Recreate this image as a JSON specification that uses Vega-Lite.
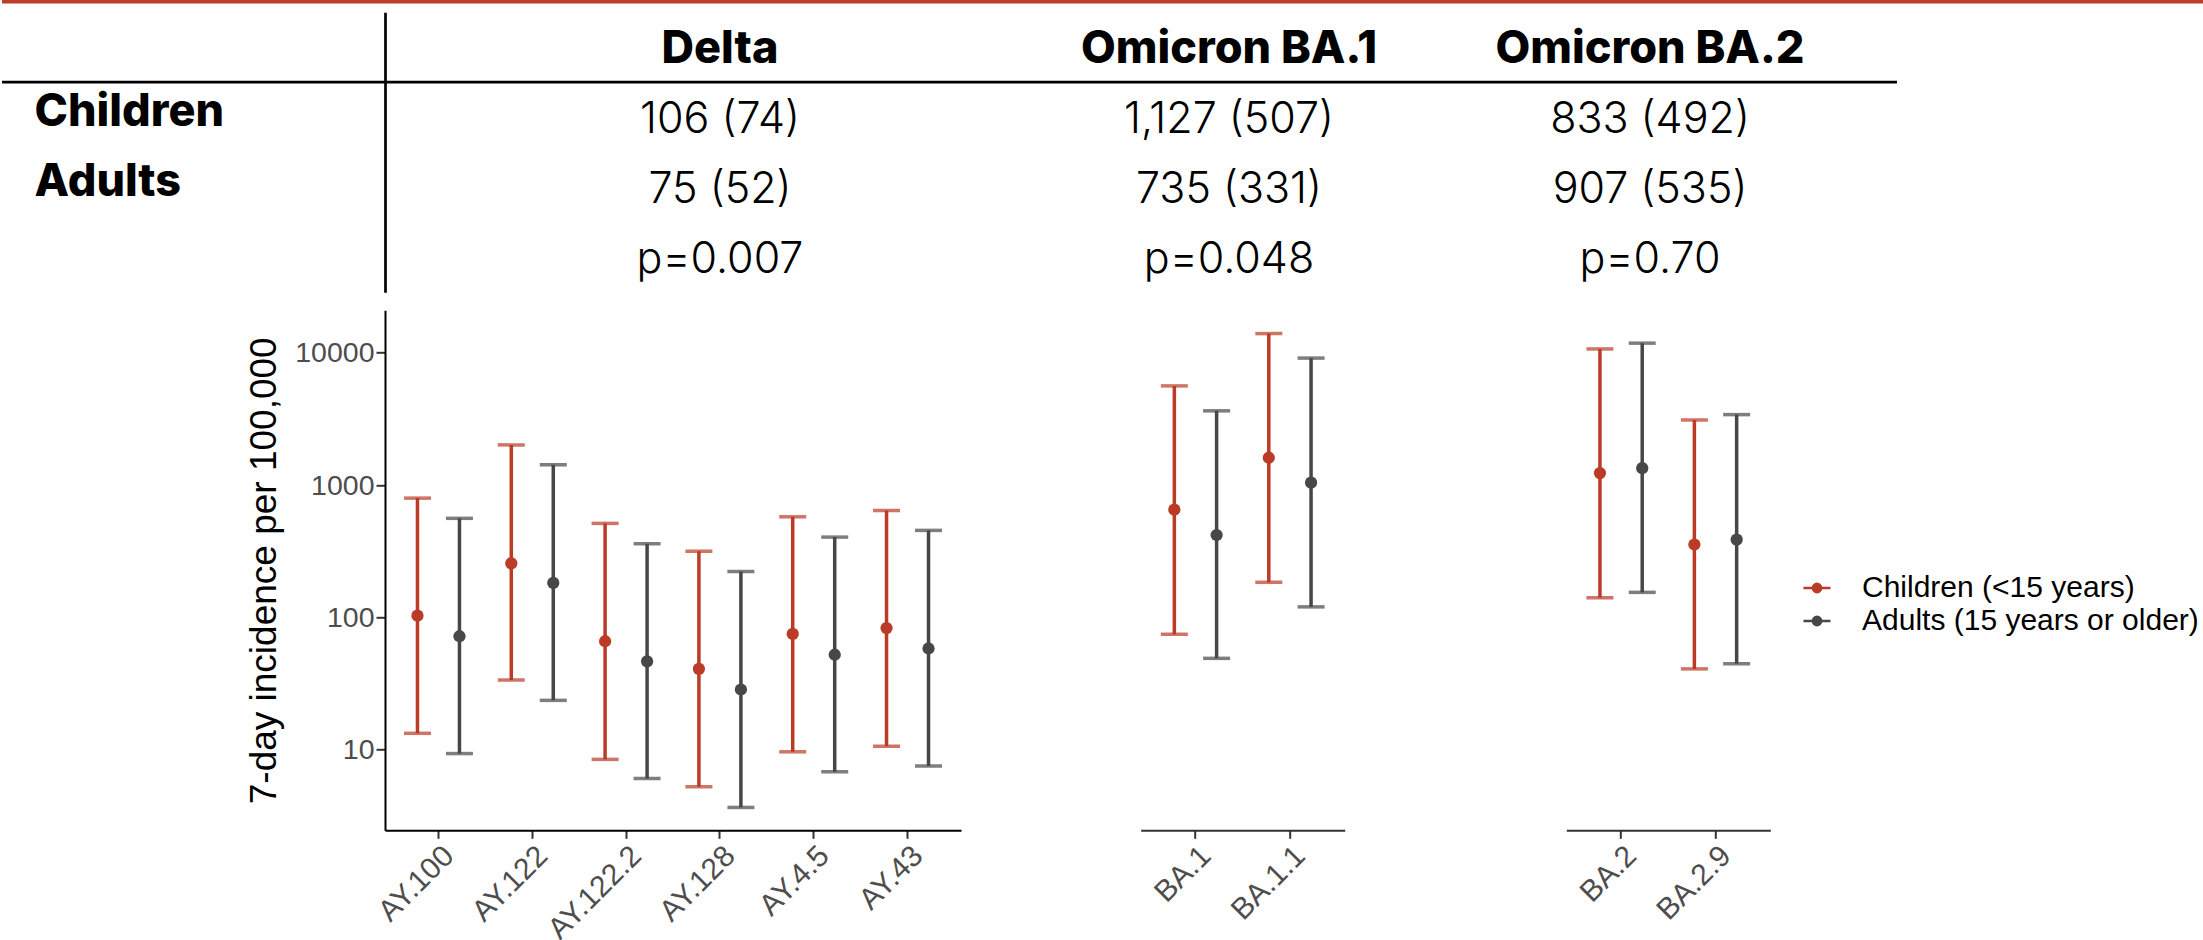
{
  "$schema": "https://vega.github.io/schema/vega-lite/v6.json",
  "padding": 0,
  "background": "white",
  "config": {
    "view": {"stroke": null},
    "axis": {"grid": false},
    "legend": {
      "labelFont": "Liberation Sans",
      "labelFontSize": 30,
      "labelColor": "black",
      "symbolType": "M-1,0H1M-0.3,0A0.3,0.3,0,1,1,0.3,0A0.3,0.3,0,1,1,-0.3,0Z",
      "symbolSize": 729,
      "symbolStrokeWidth": 2.7,
      "labelOffset": 30,
      "rowPadding": 3,
      "padding": 0,
      "labelLimit": 0
    }
  },
  "datasets": {
    "one": [{"k": 1}],
    "table": [
      {"col": "Delta", "row": "header", "label": "Delta"},
      {"col": "Delta", "row": "Children", "label": "106 (74)"},
      {"col": "Delta", "row": "Adults", "label": "75 (52)"},
      {"col": "Delta", "row": "p", "label": "p=0.007"},
      {"col": "BA.1", "row": "header", "label": "Omicron BA.1"},
      {"col": "BA.1", "row": "Children", "label": "1,127 (507)"},
      {"col": "BA.1", "row": "Adults", "label": "735 (331)"},
      {"col": "BA.1", "row": "p", "label": "p=0.048"},
      {"col": "BA.2", "row": "header", "label": "Omicron BA.2"},
      {"col": "BA.2", "row": "Children", "label": "833 (492)"},
      {"col": "BA.2", "row": "Adults", "label": "907 (535)"},
      {"col": "BA.2", "row": "p", "label": "p=0.70"}
    ],
    "est": [
      {"lineage": "Delta", "variant": "AY.100", "group": "Children (<15 years)", "est": 103, "lo": 13.3, "hi": 796},
      {"lineage": "Delta", "variant": "AY.100", "group": "Adults (15 years or older)", "est": 72, "lo": 9.35, "hi": 560},
      {"lineage": "Delta", "variant": "AY.122", "group": "Children (<15 years)", "est": 256, "lo": 33.6, "hi": 2010},
      {"lineage": "Delta", "variant": "AY.122", "group": "Adults (15 years or older)", "est": 182, "lo": 23.6, "hi": 1422},
      {"lineage": "Delta", "variant": "AY.122.2", "group": "Children (<15 years)", "est": 66, "lo": 8.45, "hi": 513},
      {"lineage": "Delta", "variant": "AY.122.2", "group": "Adults (15 years or older)", "est": 46.5, "lo": 6.06, "hi": 360},
      {"lineage": "Delta", "variant": "AY.128", "group": "Children (<15 years)", "est": 40.8, "lo": 5.25, "hi": 316},
      {"lineage": "Delta", "variant": "AY.128", "group": "Adults (15 years or older)", "est": 28.5, "lo": 3.66, "hi": 222},
      {"lineage": "Delta", "variant": "AY.4.5", "group": "Children (<15 years)", "est": 75, "lo": 9.64, "hi": 575},
      {"lineage": "Delta", "variant": "AY.4.5", "group": "Adults (15 years or older)", "est": 52.2, "lo": 6.81, "hi": 404},
      {"lineage": "Delta", "variant": "AY.43", "group": "Children (<15 years)", "est": 83, "lo": 10.6, "hi": 641},
      {"lineage": "Delta", "variant": "AY.43", "group": "Adults (15 years or older)", "est": 58.2, "lo": 7.53, "hi": 454},
      {"lineage": "BA.1", "variant": "BA.1", "group": "Children (<15 years)", "est": 651, "lo": 74.5, "hi": 5610},
      {"lineage": "BA.1", "variant": "BA.1", "group": "Adults (15 years or older)", "est": 419, "lo": 49, "hi": 3635},
      {"lineage": "BA.1", "variant": "BA.1.1", "group": "Children (<15 years)", "est": 1607, "lo": 184, "hi": 13930},
      {"lineage": "BA.1", "variant": "BA.1.1", "group": "Adults (15 years or older)", "est": 1042, "lo": 120, "hi": 9100},
      {"lineage": "BA.2", "variant": "BA.2", "group": "Children (<15 years)", "est": 1230, "lo": 140.6, "hi": 10670},
      {"lineage": "BA.2", "variant": "BA.2", "group": "Adults (15 years or older)", "est": 1340, "lo": 154.5, "hi": 11800},
      {"lineage": "BA.2", "variant": "BA.2.9", "group": "Children (<15 years)", "est": 355, "lo": 40.8, "hi": 3100},
      {"lineage": "BA.2", "variant": "BA.2.9", "group": "Adults (15 years or older)", "est": 387, "lo": 44.6, "hi": 3404}
    ]
  },
  "resolve": {
    "scale": {"x": "independent", "y": "independent", "xOffset": "independent", "color": "shared"},
    "axis": {"x": "independent", "y": "independent"}
  },
  "bounds": "full",
  "spacing": 17.3,
  "vconcat": [
    {
      "bounds": "full",
      "spacing": 8.2,
      "resolve": {"scale": {"x": "independent", "y": "independent"}, "axis": {"x": "independent", "y": "independent"}},
      "vconcat": [
        {
          "width": 2203,
          "height": 3.5,
          "data": {"name": "one"},
          "mark": {"type": "rule", "color": "#BE3E2A", "strokeWidth": 3.5},
          "encoding": {"y": {"datum": 0.5, "type": "quantitative", "scale": {"domain": [0, 1]}, "axis": null}}
        },
        {
          "bounds": "flush",
          "spacing": 0,
          "resolve": {"scale": {"x": "independent", "y": "independent"}, "axis": {"x": "independent", "y": "independent"}},
          "hconcat": [
            {
              "width": 383,
              "height": 280,
              "data": {"name": "one"},
              "mark": {"type": "rule", "color": "black", "strokeWidth": 2.7},
              "encoding": {
                "y": {
                  "datum": "Children", "type": "nominal", "bandPosition": 0,
                  "scale": {"type": "band", "domain": ["header", "Children", "Adults", "p"], "paddingInner": 0, "paddingOuter": 0},
                  "axis": {
                    "orient": "left", "domain": false, "ticks": false, "tickSize": 0,
                    "labelAlign": "left", "labelPadding": -32, "labelBaseline": "alphabetic", "labelOffset": 9,
                    "bandPosition": 0.72, "labelFont": "Inter", "labelFontSize": 45,
                    "labelFontWeight": 800, "labelColor": "black", "labelLimit": 0,
                    "labelOverlap": false, "title": null,
                    "labelExpr": "datum.value == 'Children' || datum.value == 'Adults' ? datum.value : ''"
                  }
                }
              }
            },
            {
              "width": 670,
              "height": 280,
              "data": {"name": "table"},
              "transform": [{"filter": "datum.col == 'Delta'"}],
              "layer": [
                {
                  "data": {"name": "one"},
                  "mark": {"type": "rule", "color": "black", "strokeWidth": 2.7},
                  "encoding": {"y": {"datum": "Children", "type": "nominal", "bandPosition": 0,
                    "scale": {"type": "band", "domain": ["header", "Children", "Adults", "p"], "paddingInner": 0, "paddingOuter": 0},
                    "axis": {"domain": true, "domainColor": "black", "domainWidth": 2.7, "ticks": false, "labels": false, "title": null}}}
                },
                {
                  "transform": [{"filter": "datum.row == 'header'"}],
                  "mark": {"type": "text", "font": "Inter", "fontSize": 45, "fontWeight": 800, "baseline": "alphabetic", "color": "black"},
                  "encoding": {
                    "y": {"field": "row", "type": "nominal", "bandPosition": 0.72,
                      "scale": {"type": "band", "domain": ["header", "Children", "Adults", "p"], "paddingInner": 0, "paddingOuter": 0},
                      "axis": {"domain": true, "domainColor": "black", "domainWidth": 2.7, "ticks": false, "labels": false, "title": null}},
                    "text": {"field": "label"}
                  }
                },
                {
                  "transform": [{"filter": "datum.row != 'header'"}],
                  "mark": {"type": "text", "font": "Inter", "fontSize": 43, "fontWeight": 300, "baseline": "alphabetic", "color": "black"},
                  "encoding": {
                    "y": {"field": "row", "type": "nominal", "bandPosition": 0.72,
                      "scale": {"type": "band", "domain": ["header", "Children", "Adults", "p"], "paddingInner": 0, "paddingOuter": 0},
                      "axis": {"domain": true, "domainColor": "black", "domainWidth": 2.7, "ticks": false, "labels": false, "title": null}},
                    "text": {"field": "label"}
                  }
                }
              ]
            },
            {
              "width": 348,
              "height": 280,
              "data": {"name": "table"},
              "transform": [{"filter": "datum.col == 'BA.1'"}],
              "layer": [
                {
                  "data": {"name": "one"},
                  "mark": {"type": "rule", "color": "black", "strokeWidth": 2.7},
                  "encoding": {"y": {"datum": "Children", "type": "nominal", "bandPosition": 0,
                    "scale": {"type": "band", "domain": ["header", "Children", "Adults", "p"], "paddingInner": 0, "paddingOuter": 0}, "axis": null}}
                },
                {
                  "transform": [{"filter": "datum.row == 'header'"}],
                  "mark": {"type": "text", "font": "Inter", "fontSize": 45, "fontWeight": 800, "baseline": "alphabetic", "color": "black"},
                  "encoding": {
                    "y": {"field": "row", "type": "nominal", "bandPosition": 0.72,
                      "scale": {"type": "band", "domain": ["header", "Children", "Adults", "p"], "paddingInner": 0, "paddingOuter": 0}, "axis": null},
                    "text": {"field": "label"}
                  }
                },
                {
                  "transform": [{"filter": "datum.row != 'header'"}],
                  "mark": {"type": "text", "font": "Inter", "fontSize": 43, "fontWeight": 300, "baseline": "alphabetic", "color": "black"},
                  "encoding": {
                    "y": {"field": "row", "type": "nominal", "bandPosition": 0.72,
                      "scale": {"type": "band", "domain": ["header", "Children", "Adults", "p"], "paddingInner": 0, "paddingOuter": 0}, "axis": null},
                    "text": {"field": "label"}
                  }
                }
              ]
            },
            {
              "width": 494,
              "height": 280,
              "data": {"name": "table"},
              "transform": [{"filter": "datum.col == 'BA.2'"}],
              "layer": [
                {
                  "data": {"name": "one"},
                  "mark": {"type": "rule", "color": "black", "strokeWidth": 2.7},
                  "encoding": {"y": {"datum": "Children", "type": "nominal", "bandPosition": 0,
                    "scale": {"type": "band", "domain": ["header", "Children", "Adults", "p"], "paddingInner": 0, "paddingOuter": 0}, "axis": null}}
                },
                {
                  "transform": [{"filter": "datum.row == 'header'"}],
                  "mark": {"type": "text", "font": "Inter", "fontSize": 45, "fontWeight": 800, "baseline": "alphabetic", "color": "black"},
                  "encoding": {
                    "y": {"field": "row", "type": "nominal", "bandPosition": 0.72,
                      "scale": {"type": "band", "domain": ["header", "Children", "Adults", "p"], "paddingInner": 0, "paddingOuter": 0}, "axis": null},
                    "text": {"field": "label"}
                  }
                },
                {
                  "transform": [{"filter": "datum.row != 'header'"}],
                  "mark": {"type": "text", "font": "Inter", "fontSize": 43, "fontWeight": 300, "baseline": "alphabetic", "color": "black"},
                  "encoding": {
                    "y": {"field": "row", "type": "nominal", "bandPosition": 0.72,
                      "scale": {"type": "band", "domain": ["header", "Children", "Adults", "p"], "paddingInner": 0, "paddingOuter": 0}, "axis": null},
                    "text": {"field": "label"}
                  }
                }
              ]
            }
          ]
        }
      ]
    },
    {
      "bounds": "full",
      "spacing": 179.7,
      "resolve": {
        "scale": {"x": "independent", "y": "independent", "xOffset": "independent", "color": "shared"},
        "axis": {"x": "independent", "y": "independent"}
      },
      "hconcat": [
        {
          "bounds": "flush",
          "spacing": 180,
          "resolve": {
            "scale": {"x": "independent", "y": "independent", "xOffset": "independent", "color": "shared"},
            "axis": {"x": "independent", "y": "independent"}
          },
          "hconcat": [
            {"width": 202.7, "height": 520, "data": {"name": "one"}, "mark": {"type": "text", "text": ""}, "encoding": {}},
            {
              "width": 576,
              "height": 520,
              "data": {"name": "est"},
              "transform": [{"filter": "datum.lineage == 'Delta'"}],
              "encoding": {
                "x": {"field": "variant", "type": "nominal", "sort": ["AY.100", "AY.122", "AY.122.2", "AY.128", "AY.4.5", "AY.43"],
                  "scale": {"type": "band", "paddingInner": 0, "paddingOuter": 0.07},
                  "axis": {"title": null, "labelAngle": -45, "labelAlign": "right", "labelBaseline": "top", "labelFont": "Liberation Sans", "labelFontSize": 30, "labelColor": "#4D4D4D", "labelPadding": 2, "tickSize": 8, "tickWidth": 2, "tickColor": "#333333", "domainColor": "black", "domainWidth": 2, "labelLimit": 0}},
                "xOffset": {"field": "group", "type": "nominal", "scale": {"domain": ["Children (<15 years)", "Adults (15 years or older)"], "paddingInner": 0, "paddingOuter": 0.117}},
                "color": {"field": "group", "type": "nominal", "scale": {"domain": ["Children (<15 years)", "Adults (15 years or older)"], "range": ["#BB3B26", "#474747"]},
                  "legend": {"title": null, "orient": "none", "legendX": 1800, "legendY": 573, "encode": {"symbols": {"update": {"fill": {"scale": "color", "field": "value"}, "stroke": {"scale": "color", "field": "value"}}}}}}
              },
              "layer": [
                {
                  "mark": {"type": "rule", "strokeWidth": 3.5},
                  "encoding": {
                    "y": {"field": "lo", "type": "quantitative", "scale": {"type": "log", "domain": [2.46, 20900], "nice": false},
                      "axis": {"values": [10, 100, 1000, 10000], "format": "d", "title": "7-day incidence per 100,000", "titleFont": "Liberation Sans", "titleFontSize": 37, "titleFontWeight": "normal", "titleColor": "black", "titlePadding": 11, "labelFont": "Liberation Sans", "labelFontSize": 28.5, "labelColor": "#4D4D4D", "labelPadding": 2, "tickSize": 9, "tickWidth": 2, "tickColor": "#333333", "domainColor": "black", "domainWidth": 2}},
                    "y2": {"field": "hi"}
                  }
                },
                {
                  "mark": {"type": "tick", "orient": "horizontal", "thickness": 3.5, "size": 27},
                  "encoding": {
                    "y": {"field": "lo", "type": "quantitative", "scale": {"type": "log", "domain": [2.46, 20900], "nice": false},
                      "axis": {"values": [10, 100, 1000, 10000], "format": "d", "title": "7-day incidence per 100,000", "titleFont": "Liberation Sans", "titleFontSize": 37, "titleFontWeight": "normal", "titleColor": "black", "titlePadding": 11, "labelFont": "Liberation Sans", "labelFontSize": 28.5, "labelColor": "#4D4D4D", "labelPadding": 2, "tickSize": 9, "tickWidth": 2, "tickColor": "#333333", "domainColor": "black", "domainWidth": 2}}
                  }
                },
                {
                  "mark": {"type": "tick", "orient": "horizontal", "thickness": 3.5, "size": 27},
                  "encoding": {
                    "y": {"field": "hi", "type": "quantitative", "scale": {"type": "log", "domain": [2.46, 20900], "nice": false},
                      "axis": {"values": [10, 100, 1000, 10000], "format": "d", "title": "7-day incidence per 100,000", "titleFont": "Liberation Sans", "titleFontSize": 37, "titleFontWeight": "normal", "titleColor": "black", "titlePadding": 11, "labelFont": "Liberation Sans", "labelFontSize": 28.5, "labelColor": "#4D4D4D", "labelPadding": 2, "tickSize": 9, "tickWidth": 2, "tickColor": "#333333", "domainColor": "black", "domainWidth": 2}}
                  }
                },
                {
                  "mark": {"type": "point", "filled": true, "size": 150, "opacity": 1},
                  "encoding": {
                    "y": {"field": "est", "type": "quantitative", "scale": {"type": "log", "domain": [2.46, 20900], "nice": false},
                      "axis": {"values": [10, 100, 1000, 10000], "format": "d", "title": "7-day incidence per 100,000", "titleFont": "Liberation Sans", "titleFontSize": 37, "titleFontWeight": "normal", "titleColor": "black", "titlePadding": 11, "labelFont": "Liberation Sans", "labelFontSize": 28.5, "labelColor": "#4D4D4D", "labelPadding": 2, "tickSize": 9, "tickWidth": 2, "tickColor": "#333333", "domainColor": "black", "domainWidth": 2}}
                  }
                }
              ]
            }
          ]
        },
        {
          "bounds": "flush",
          "spacing": 221.6,
          "resolve": {
            "scale": {"x": "independent", "y": "independent", "xOffset": "independent", "color": "shared"},
            "axis": {"x": "independent", "y": "independent"}
          },
          "hconcat": [
            {
              "width": 204,
              "height": 520,
              "data": {"name": "est"},
              "transform": [{"filter": "datum.lineage == 'BA.1'"}],
              "encoding": {
                "x": {"field": "variant", "type": "nominal", "sort": ["BA.1", "BA.1.1"],
                  "scale": {"type": "band", "paddingInner": 0, "paddingOuter": 0.08},
                  "axis": {"title": null, "labelAngle": -45, "labelAlign": "right", "labelBaseline": "top", "labelFont": "Liberation Sans", "labelFontSize": 30, "labelColor": "#4D4D4D", "labelPadding": 2, "tickSize": 8, "tickWidth": 2, "tickColor": "#333333", "domainColor": "#333333", "domainWidth": 2, "labelLimit": 0}},
                "xOffset": {"field": "group", "type": "nominal", "scale": {"domain": ["Children (<15 years)", "Adults (15 years or older)"], "paddingInner": 0, "paddingOuter": 0.117}},
                "color": {"field": "group", "type": "nominal", "scale": {"domain": ["Children (<15 years)", "Adults (15 years or older)"], "range": ["#BB3B26", "#474747"]},
                  "legend": {"title": null, "orient": "none", "legendX": 1800, "legendY": 573, "encode": {"symbols": {"update": {"fill": {"scale": "color", "field": "value"}, "stroke": {"scale": "color", "field": "value"}}}}}}
              },
              "layer": [
                {
                  "mark": {"type": "rule", "strokeWidth": 3.5},
                  "encoding": {
                    "y": {"field": "lo", "type": "quantitative", "scale": {"type": "log", "domain": [2.46, 20900], "nice": false}, "axis": null},
                    "y2": {"field": "hi"}
                  }
                },
                {
                  "mark": {"type": "tick", "orient": "horizontal", "thickness": 3.5, "size": 27},
                  "encoding": {"y": {"field": "lo", "type": "quantitative", "scale": {"type": "log", "domain": [2.46, 20900], "nice": false}, "axis": null}}
                },
                {
                  "mark": {"type": "tick", "orient": "horizontal", "thickness": 3.5, "size": 27},
                  "encoding": {"y": {"field": "hi", "type": "quantitative", "scale": {"type": "log", "domain": [2.46, 20900], "nice": false}, "axis": null}}
                },
                {
                  "mark": {"type": "point", "filled": true, "size": 150, "opacity": 1},
                  "encoding": {"y": {"field": "est", "type": "quantitative", "scale": {"type": "log", "domain": [2.46, 20900], "nice": false}, "axis": null}}
                }
              ]
            },
            {
              "width": 204,
              "height": 520,
              "data": {"name": "est"},
              "transform": [{"filter": "datum.lineage == 'BA.2'"}],
              "encoding": {
                "x": {"field": "variant", "type": "nominal", "sort": ["BA.2", "BA.2.9"],
                  "scale": {"type": "band", "paddingInner": 0, "paddingOuter": 0.08},
                  "axis": {"title": null, "labelAngle": -45, "labelAlign": "right", "labelBaseline": "top", "labelFont": "Liberation Sans", "labelFontSize": 30, "labelColor": "#4D4D4D", "labelPadding": 2, "tickSize": 8, "tickWidth": 2, "tickColor": "#333333", "domainColor": "#333333", "domainWidth": 2, "labelLimit": 0}},
                "xOffset": {"field": "group", "type": "nominal", "scale": {"domain": ["Children (<15 years)", "Adults (15 years or older)"], "paddingInner": 0, "paddingOuter": 0.117}},
                "color": {"field": "group", "type": "nominal", "scale": {"domain": ["Children (<15 years)", "Adults (15 years or older)"], "range": ["#BB3B26", "#474747"]},
                  "legend": {"title": null, "orient": "none", "legendX": 1800, "legendY": 573, "encode": {"symbols": {"update": {"fill": {"scale": "color", "field": "value"}, "stroke": {"scale": "color", "field": "value"}}}}}}
              },
              "layer": [
                {
                  "mark": {"type": "rule", "strokeWidth": 3.5},
                  "encoding": {
                    "y": {"field": "lo", "type": "quantitative", "scale": {"type": "log", "domain": [2.46, 20900], "nice": false}, "axis": null},
                    "y2": {"field": "hi"}
                  }
                },
                {
                  "mark": {"type": "tick", "orient": "horizontal", "thickness": 3.5, "size": 27},
                  "encoding": {"y": {"field": "lo", "type": "quantitative", "scale": {"type": "log", "domain": [2.46, 20900], "nice": false}, "axis": null}}
                },
                {
                  "mark": {"type": "tick", "orient": "horizontal", "thickness": 3.5, "size": 27},
                  "encoding": {"y": {"field": "hi", "type": "quantitative", "scale": {"type": "log", "domain": [2.46, 20900], "nice": false}, "axis": null}}
                },
                {
                  "mark": {"type": "point", "filled": true, "size": 150, "opacity": 1},
                  "encoding": {"y": {"field": "est", "type": "quantitative", "scale": {"type": "log", "domain": [2.46, 20900], "nice": false}, "axis": null}}
                }
              ]
            }
          ]
        }
      ]
    }
  ]
}
